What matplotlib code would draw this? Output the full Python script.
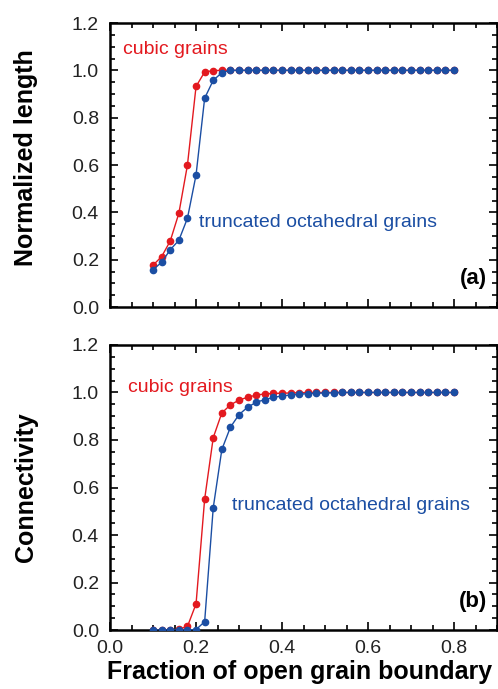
import matplotlib
matplotlib.use('Agg')
import matplotlib.pyplot as plt
from matplotlib.ticker import MultipleLocator

plt.rcParams['font.family'] = ['Liberation Sans', 'DejaVu Sans']

# fraction of open grain boundary, 0.10 .. 0.80 step 0.02
frac = [0.10, 0.12, 0.14, 0.16, 0.18, 0.20, 0.22, 0.24, 0.26, 0.28,
        0.30, 0.32, 0.34, 0.36, 0.38, 0.40, 0.42, 0.44, 0.46, 0.48,
        0.50, 0.52, 0.54, 0.56, 0.58, 0.60, 0.62, 0.64, 0.66, 0.68,
        0.70, 0.72, 0.74, 0.76, 0.78, 0.80]

# (a) normalized length
length_cubic = [0.177, 0.213, 0.279, 0.396, 0.600, 0.932, 0.993, 0.999, 1.0, 1.0,
                1.0, 1.0, 1.0, 1.0, 1.0, 1.0, 1.0, 1.0, 1.0, 1.0,
                1.0, 1.0, 1.0, 1.0, 1.0, 1.0, 1.0, 1.0, 1.0, 1.0,
                1.0, 1.0, 1.0, 1.0, 1.0, 1.0]
length_trunc = [0.158, 0.189, 0.242, 0.282, 0.375, 0.558, 0.882, 0.958, 0.990, 1.0,
                1.0, 1.0, 1.0, 1.0, 1.0, 1.0, 1.0, 1.0, 1.0, 1.0,
                1.0, 1.0, 1.0, 1.0, 1.0, 1.0, 1.0, 1.0, 1.0, 1.0,
                1.0, 1.0, 1.0, 1.0, 1.0, 1.0]

# (b) connectivity
conn_cubic = [0.0, 0.0, 0.0, 0.003, 0.015, 0.11, 0.551, 0.81, 0.914, 0.948,
              0.968, 0.980, 0.989, 0.994, 0.996, 0.997, 0.998, 0.999, 1.0, 1.0,
              1.0, 1.0, 1.0, 1.0, 1.0, 1.0, 1.0, 1.0, 1.0, 1.0,
              1.0, 1.0, 1.0, 1.0, 1.0, 1.0]
conn_trunc = [0.0, 0.0, 0.0, 0.0, 0.0, 0.002, 0.035, 0.515, 0.760, 0.854,
              0.907, 0.938, 0.959, 0.970, 0.979, 0.986, 0.989, 0.993, 0.995, 0.997,
              0.998, 0.999, 1.0, 1.0, 1.0, 1.0, 1.0, 1.0, 1.0, 1.0,
              1.0, 1.0, 1.0, 1.0, 1.0, 1.0]

red = '#e3191f'
blue = '#1b4ea3'

fig = plt.figure(figsize=(4.98, 6.89), dpi=100)
ax1 = fig.add_axes([0.221, 0.5544, 0.777, 0.4122])
ax2 = fig.add_axes([0.221, 0.0856, 0.777, 0.4137])


def style_axes(ax):
    ax.set_xlim(0, 0.9)
    ax.set_ylim(0, 1.2)
    ax.xaxis.set_major_locator(MultipleLocator(0.2))
    ax.xaxis.set_minor_locator(MultipleLocator(0.05))
    ax.yaxis.set_major_locator(MultipleLocator(0.2))
    ax.yaxis.set_minor_locator(MultipleLocator(0.05))
    ax.tick_params(which='both', direction='in', top=True, right=True,
                   labelsize=14, labelcolor='#222222', width=1.2)
    ax.tick_params(which='major', length=5.5)
    ax.tick_params(which='minor', length=3.5)
    ax.tick_params(axis='x', pad=7)
    ax.tick_params(axis='y', pad=8)
    ax.yaxis.set_major_formatter(plt.FormatStrFormatter('%.1f'))
    ax.xaxis.set_major_formatter(plt.FormatStrFormatter('%.1f'))
    for s in ax.spines.values():
        s.set_linewidth(1.8)


for ax, yc, yt, ylab, tag, ly in [(ax1, length_cubic, length_trunc, 'Normalized length', '(a)', 0.525),
                                  (ax2, conn_cubic, conn_trunc, 'Connectivity', '(b)', 0.50)]:
    ax.plot(frac, yc, '-o', color=red, lw=1.0, ms=4.5, zorder=2)
    ax.plot(frac, yt, '-o', color=blue, lw=1.0, ms=4.5, zorder=3)
    style_axes(ax)
    ax.set_ylabel(ylab, fontsize=18, fontweight='bold')
    ax.yaxis.set_label_coords(-0.187, ly)
    ax.text(0.876, 0.12, tag, fontsize=16, fontweight='bold',
            ha='right', va='center')

ax1.tick_params(labelbottom=False)

ax1.text(0.030, 1.086, 'cubic grains', color=red, fontsize=14, va='center')
ax1.text(0.206, 0.359, 'truncated octahedral grains', color=blue, fontsize=14, va='center')
ax2.text(0.042, 1.023, 'cubic grains', color=red, fontsize=14, va='center')
ax2.text(0.283, 0.526, 'truncated octahedral grains', color=blue, fontsize=14, va='center')

fig.text(107 / 498, 1 - 672 / 689, 'Fraction of open grain boundary',
         fontsize=18, fontweight='bold', ha='left', va='center')

fig.savefig('out.png', dpi=100)
